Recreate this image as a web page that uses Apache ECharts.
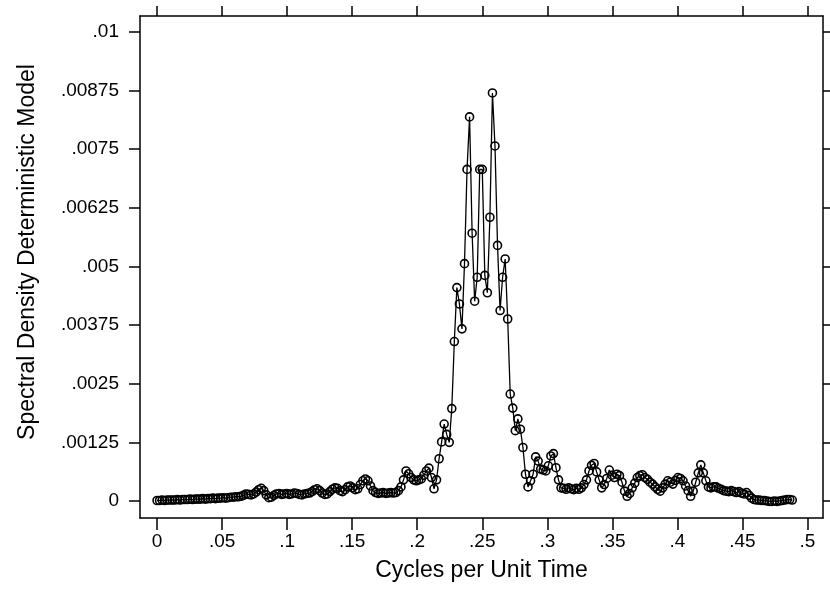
<!DOCTYPE html>
<html>
<head>
<meta charset="utf-8">
<script src="https://cdn.jsdelivr.net/npm/echarts@6/dist/echarts.min.js"></script>
<style>
html,body{margin:0;padding:0;background:#fff;}
#chart{width:830px;height:599px;}
</style>
</head>
<body>
<div id="chart"></div>
<script>
// Frequency grid step (cycles per unit time) of the periodogram
const freqStep = 1 / 512;

// Spectral density values, one per frequency index k = 0..250
const spectralDensity = [
  .00001,.00001,.00002,.00001,.00002,.00002,.00002,.00002,.00003,.00002,
  .00003,.00003,.00003,.00004,.00003,.00004,.00004,.00004,.00005,.00004,
  .00005,.00005,.00006,.00005,.00006,.00006,.00007,.00006,.00007,.00008,
  .00008,.00009,.00009,.0001,.00012,.00015,.00014,.00013,.00015,.00019,
  .00024,.00027,.00022,.00013,.00007,.00008,.00012,.00015,.00016,.00014,
  .00015,.00016,.00014,.00015,.00017,.00016,.00014,.00013,.00015,.00016,
  .00017,.0002,.00024,.00026,.00022,.00017,.00014,.00015,.0002,.00025,
  .00028,.00027,.00022,.0002,.00024,.0003,.00032,.00028,.00024,.00026,
  .00035,.00043,.00047,.00043,.00032,.00022,.00018,.00016,.00017,.00018,
  .00016,.00017,.00018,.00017,.00018,.00022,.0003,.00045,.00064,.00058,
  .0005,.00045,.00043,.00045,.00047,.00055,.00064,.0007,.0005,.00026,
  .00045,.0009,.00126,.00164,.00142,.00125,.00197,.0034,.00455,.0042,
  .00367,.00506,.00707,.00819,.00571,.00426,.00477,.00707,.00707,.00481,
  .00444,.00605,.0087,.00757,.00545,.00406,.00477,.00516,.00388,.00228,
  .00198,.0015,.00175,.00153,.00114,.00057,.0003,.00043,.00057,.00094,
  .00085,.00068,.00066,.00064,.00075,.00096,.00101,.00071,.00045,.00028,
  .00027,.00025,.00028,.00026,.00024,.00027,.00025,.00028,.00035,.00045,
  .00064,.00076,.0008,.00062,.00045,.00028,.00035,.00048,.00066,.00055,
  .0005,.00057,.00054,.0004,.00021,.0001,.00016,.00028,.00038,.0005,
  .00054,.00056,.0005,.00046,.0004,.00036,.0003,.00025,.00021,.00028,
  .00036,.00043,.0004,.00036,.00044,.0005,.00048,.00043,.00032,.00022,
  .0001,.00021,.0004,.0006,.00077,.0006,.00043,.0003,.00028,.0003,
  .0003,.00027,.00025,.00022,.00021,.0002,.00022,.0002,.00018,.0002,
  .00017,.00015,.00018,.00012,.00006,.00003,.00002,.00002,.00001,.00001,
  0,-.00001,-.00001,0,-.00001,0,.00001,.00002,.00003,.00003,
  .00002
];

// Axis ticks and labels
const xTickValues = [0, .05, .1, .15, .2, .25, .3, .35, .4, .45, .5];
const xTickLabels = ['0', '.05', '.1', '.15', '.2', '.25', '.3', '.35', '.4', '.45', '.5'];
const yTickValues = [0, .00125, .0025, .00375, .005, .00625, .0075, .00875, .01];
const yTickLabels = ['0', '.00125', '.0025', '.00375', '.005', '.00625', '.0075', '.00875', '.01'];

const xTitle = 'Cycles per Unit Time';
const yTitle = 'Spectral Density Deterministic Model';

const xMin = -0.0131, xMax = 0.5119;
const yMin = -0.000363, yMax = 0.010341;

const seriesData = spectralDensity.map((v, k) => [k * freqStep, v]);

function lookup(vals, labels, v) {
  for (let i = 0; i < vals.length; i++) {
    if (Math.abs(vals[i] - v) < 1e-9) return labels[i];
  }
  return '';
}

const FONT = '"Liberation Sans", Arial, Helvetica, sans-serif';
const black = '#000';

const chart = echarts.init(document.getElementById('chart'), null, {renderer: 'canvas'});
const option = {
  backgroundColor: '#fff',
  animation: false,
  grid: {left: 140, right: 7, top: 16, bottom: 81, containLabel: false},
  xAxis: [
    {
      type: 'value', position: 'bottom', min: xMin, max: xMax,
      axisLine: {show: true, onZero: false, lineStyle: {color: black, width: 1.5}},
      axisTick: {show: true, inside: false, length: 12, customValues: xTickValues, lineStyle: {color: black, width: 1.5}},
      axisLabel: {
        show: true, customValues: xTickValues, margin: 14,
        formatter: v => lookup(xTickValues, xTickLabels, v),
        fontSize: 19, color: black, fontFamily: FONT
      },
      splitLine: {show: false},
      name: xTitle, nameLocation: 'middle', nameGap: 41,
      nameTextStyle: {fontSize: 23, color: black, fontFamily: FONT}
    },
    {
      type: 'value', position: 'top', min: xMin, max: xMax,
      axisLine: {show: true, onZero: false, lineStyle: {color: black, width: 1.5}},
      axisTick: {show: true, inside: false, length: 10, customValues: xTickValues, lineStyle: {color: black, width: 1.5}},
      axisLabel: {show: false},
      splitLine: {show: false}
    }
  ],
  yAxis: [
    {
      type: 'value', position: 'left', min: yMin, max: yMax,
      axisLine: {show: true, onZero: false, lineStyle: {color: black, width: 1.5}},
      axisTick: {show: true, inside: false, length: 11, customValues: yTickValues, lineStyle: {color: black, width: 1.5}},
      axisLabel: {
        show: true, customValues: yTickValues, margin: 21,
        formatter: v => lookup(yTickValues, yTickLabels, v),
        fontSize: 19, color: black, fontFamily: FONT
      },
      splitLine: {show: false},
      name: yTitle, nameLocation: 'middle', nameGap: 101,
      nameTextStyle: {fontSize: 23, color: black, fontFamily: FONT, padding: [0, 0, 0, 30]}
    },
    {
      type: 'value', position: 'right', min: yMin, max: yMax,
      axisLine: {show: true, onZero: false, lineStyle: {color: black, width: 1.5}},
      axisTick: {show: true, inside: false, length: 7, customValues: yTickValues, lineStyle: {color: black, width: 1.5}},
      axisLabel: {show: false},
      splitLine: {show: false}
    }
  ],
  series: [{
    type: 'line',
    xAxisIndex: 0, yAxisIndex: 0,
    data: seriesData,
    showAllSymbol: true,
    symbol: 'circle',
    symbolSize: 8,
    itemStyle: {color: 'rgba(255,255,255,0)', borderColor: black, borderWidth: 1.6},
    lineStyle: {color: black, width: 1.3},
    emphasis: {disabled: true}
  }]
};
chart.setOption(option);
</script>
</body>
</html>
